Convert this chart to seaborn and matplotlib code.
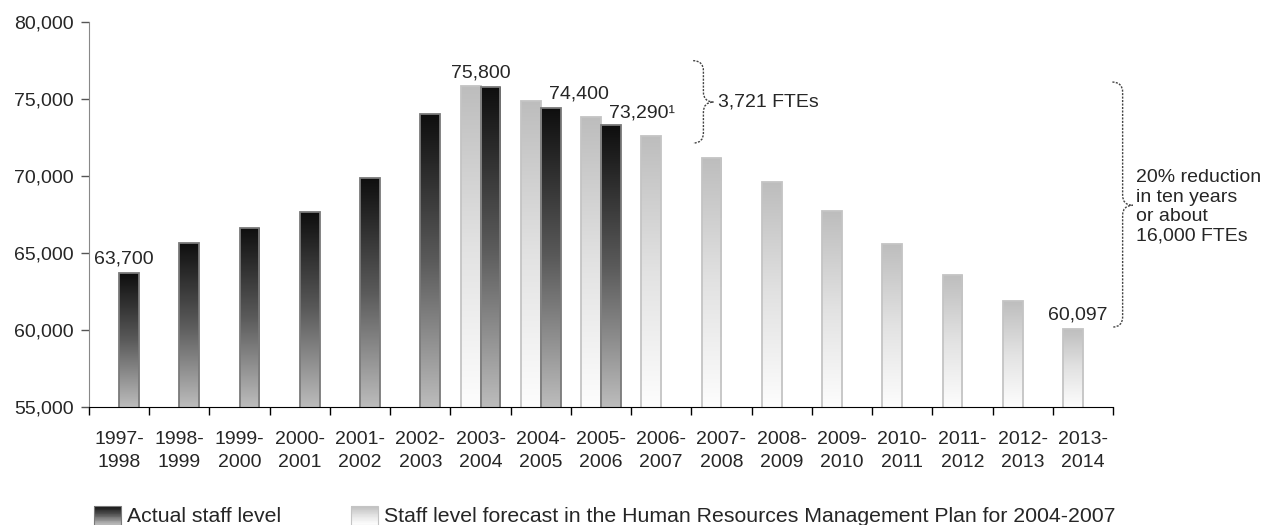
import matplotlib
matplotlib.use('Agg')
import matplotlib.pyplot as plt
import seaborn as sns
import pandas as pd
import numpy as np
from matplotlib.path import Path
from matplotlib.patches import PathPatch, Rectangle
from matplotlib.legend_handler import HandlerBase
from matplotlib.colors import LinearSegmentedColormap
from matplotlib.ticker import FuncFormatter, FixedLocator

# Données
periodes = ['1997-\n1998', '1998-\n1999', '1999-\n2000', '2000-\n2001', '2001-\n2002',
            '2002-\n2003', '2003-\n2004', '2004-\n2005', '2005-\n2006', '2006-\n2007',
            '2007-\n2008', '2008-\n2009', '2009-\n2010', '2010-\n2011', '2011-\n2012',
            '2012-\n2013', '2013-\n2014']
effectif_reel = [63700, 65650, 66650, 67650, 69850, 74000, 75800, 74400, 73290]
effectif_prevu = [75850, 74900, 73800, 72600, 71200, 69600, 67700, 65600, 63600, 61900, 60097]
serie_reel = 'Actual staff level'
serie_prevu = 'Staff level forecast in the Human Resources Management Plan for 2004-2007'

df = pd.concat([
    pd.DataFrame({'periode': periodes[:len(effectif_reel)], 'effectif': effectif_reel, 'serie': serie_reel}),
    pd.DataFrame({'periode': periodes[6:6 + len(effectif_prevu)], 'effectif': effectif_prevu, 'serie': serie_prevu}),
])

sns.set_style('white')
plt.rcParams['font.family'] = ['Liberation Sans', 'DejaVu Sans']

cmap_reel = LinearSegmentedColormap.from_list('reel', ['#0e0e0e', '#5a5a5a', '#bcbcbc'])
cmap_prevu = LinearSegmentedColormap.from_list('prevu', ['#bdbdbd', '#e2e2e2', '#fdfdfd'])

fig = plt.figure(figsize=(12.73, 5.25), dpi=100)
ax = fig.add_axes([89 / 1273, 1 - 407 / 525, (1113 - 89) / 1273, (407 - 22) / 525])

sns.barplot(data=df, x='periode', y='effectif', hue='serie', order=periodes,
            hue_order=[serie_prevu, serie_reel], width=0.66, legend=False, ax=ax)

ymin, ymax = 55000, 80000


def degrade(ax, barre, cmap, bord):
    x, w, h = barre.get_x(), barre.get_width(), barre.get_height()
    grad = np.linspace(0, 1, 256).reshape(-1, 1)
    im = ax.imshow(grad, extent=[x, x + w, ymin, h], origin='upper', aspect='auto',
                   cmap=cmap, zorder=1, interpolation='bicubic')
    im.set_clip_path(barre)
    barre.set_facecolor('none')
    barre.set_edgecolor(bord)
    barre.set_linewidth(1.3)
    barre.set_zorder(2)


for barre in ax.containers[0]:
    degrade(ax, barre, cmap_prevu, '#c4c4c4')
for barre in ax.containers[1]:
    degrade(ax, barre, cmap_reel, '#7a7a7a')

ax.set_xlim(-0.5, len(periodes) - 0.5)
ax.set_ylim(ymin, ymax)
ax.yaxis.set_major_locator(FixedLocator(np.arange(ymin, ymax + 1, 5000)))
ax.yaxis.set_major_formatter(FuncFormatter(lambda v, p: f'{v:,.0f}'))
ax.tick_params(axis='y', length=6, width=1, color='#555555', labelsize=14, pad=5, left=True)
ax.xaxis.set_minor_locator(FixedLocator(np.arange(-0.5, len(periodes), 1)))
ax.tick_params(axis='x', which='major', length=0, pad=0)
ax.tick_params(axis='x', which='minor', length=6, width=1, color='black', bottom=True)
ax.set_xticks(range(len(periodes)), labels=[])
ax.set_xlabel('')
ax.set_ylabel('')
sns.despine(ax=ax)
ax.spines['left'].set_color('#888888')
ax.spines['bottom'].set_color('black')

# Étiquettes des périodes (deux lignes)
for i, p in enumerate(periodes):
    ax.text(i, -0.062, p, transform=ax.get_xaxis_transform(), ha='center', va='top',
            fontsize=14, linespacing=1.5)

# Étiquettes de valeurs
txt = dict(fontsize=14, va='bottom')
ax.text(0.08, effectif_reel[0] + 350, f'{effectif_reel[0]:,}', ha='center', **txt)
ax.text(6.0, effectif_reel[6] + 350, f'{effectif_reel[6]:,}', ha='center', **txt)
ax.text(7.14, effectif_reel[7] + 400, f'{effectif_reel[7]:,}', ha='left', **txt)
ax.text(8.14, effectif_reel[8] + 250, f'{effectif_reel[8]:,}¹', ha='left', **txt)
ax.text(15.91, effectif_prevu[-1] + 330, f'{effectif_prevu[-1]:,}', ha='center', **txt)


# Accolades
def accolade(ax, x0, x1, x2, y_haut, y_bas, y_mid, r):
    verts = [(x0, y_haut), (x1, y_haut), (x1, y_haut - r),
             (x1, y_mid + r),
             (x1, y_mid), (x2, y_mid),
             (x1, y_mid), (x1, y_mid - r),
             (x1, y_bas + r),
             (x1, y_bas), (x0, y_bas)]
    codes = [Path.MOVETO, Path.CURVE3, Path.CURVE3, Path.LINETO, Path.CURVE3, Path.CURVE3,
             Path.CURVE3, Path.CURVE3, Path.LINETO, Path.CURVE3, Path.CURVE3]
    ax.add_patch(PathPatch(Path(verts, codes), facecolor='none', edgecolor='#444444',
                           linewidth=1, linestyle=(0, (1.5, 1)), clip_on=False))


accolade(ax, 9.53, 9.70, 9.87, 77490, 72140, 74800, 650)
ax.text(9.95, 74800, '3,721 FTEs', fontsize=14, ha='left', va='center')
accolade(ax, 16.49, 16.66, 16.83, 76100, 60190, 68100, 650)
ax.text(16.89, 68000, '20% reduction\nin ten years\nor about\n16,000 FTEs',
        fontsize=14, ha='left', va='center', linespacing=1.2, clip_on=False)


# Légende
class HandlerDegrade(HandlerBase):
    def __init__(self, cmap, bord):
        super().__init__()
        self.cmap = cmap
        self.bord = bord

    def create_artists(self, legend, orig_handle, xdescent, ydescent, width, height, fontsize, trans):
        n = 24
        arts = []
        for i in range(n):
            arts.append(Rectangle((-xdescent, -ydescent + height * (1 - (i + 1) / n)), width, height / n,
                                  facecolor=self.cmap(i / (n - 1)), edgecolor='none', transform=trans))
        arts.append(Rectangle((-xdescent, -ydescent), width, height, facecolor='none',
                              edgecolor=self.bord, linewidth=0.8, transform=trans))
        return arts


h_reel = Rectangle((0, 0), 1, 1)
h_prevu = Rectangle((0, 0), 1, 1)
fig.legend([h_reel, h_prevu], [serie_reel, serie_prevu], ncol=2, loc='center left',
           bbox_to_anchor=(94 / 1273, 1 - 516 / 525), frameon=False, fontsize=15.3,
           borderpad=0, borderaxespad=0,
           handlelength=1.27, handleheight=1.0, handletextpad=0.28, columnspacing=3.3,
           handler_map={h_reel: HandlerDegrade(cmap_reel, '#7a7a7a'),
                        h_prevu: HandlerDegrade(cmap_prevu, '#c4c4c4')})

fig.savefig('out.png', dpi=100)
